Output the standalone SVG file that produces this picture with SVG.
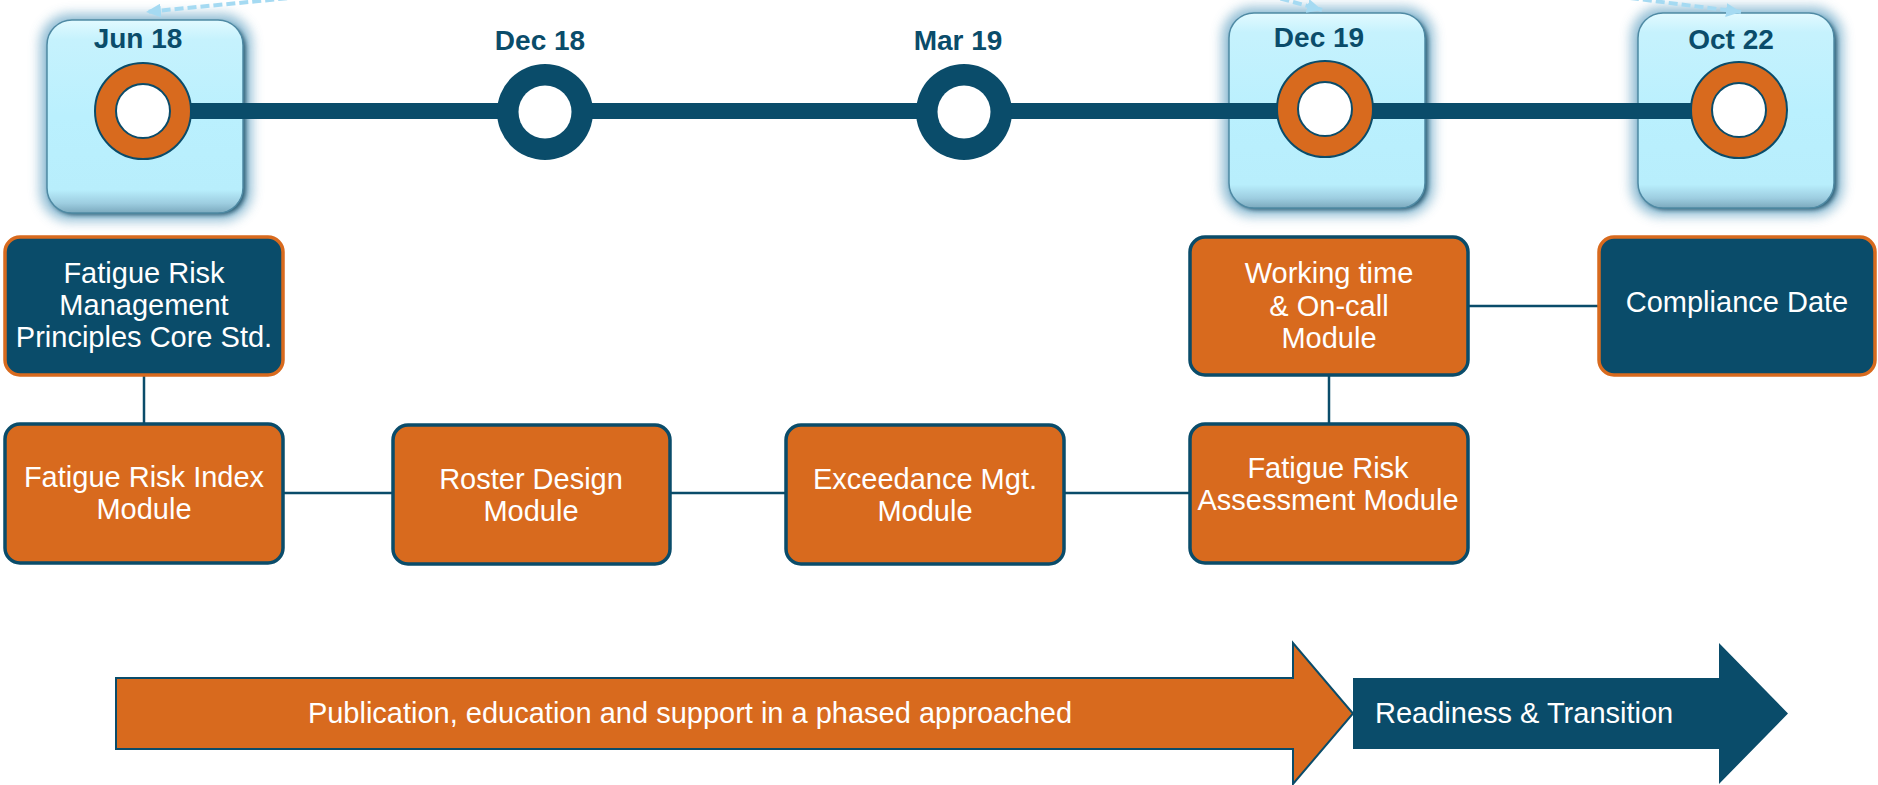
<svg xmlns="http://www.w3.org/2000/svg" width="1878" height="785" viewBox="0 0 1878 785">
<defs>
<style>
.hl{fill:url(#cyan);stroke:#4F8AA4;stroke-width:1.5}
.glow{fill:#7EB2CE;opacity:0.85;filter:url(#blur)}
.shade{fill:#1F4F66;opacity:0.85;filter:url(#blur2)}
.date{font-family:"Liberation Sans",Arial,sans-serif;font-weight:bold;font-size:28px;fill:#0A4C6A;text-anchor:middle}
.ringO{fill:#D86A1E;stroke:#0A4C6A;stroke-width:2}
.ringD{fill:#0A4C6A}
.hole{fill:#FFFFFF;stroke:#0A4C6A;stroke-width:2}
.boxO{fill:#D86A1E;stroke:#0A4C6A;stroke-width:3.5}
.boxB{fill:#0A4C6A;stroke:#D86A1E;stroke-width:3.5}
.txt{font-family:"Liberation Sans",Arial,sans-serif;font-size:29px;fill:#FFFFFF;text-anchor:middle}
.conn{stroke:#0A4C6A;stroke-width:2.5;fill:none}
.dash{stroke:#A5DAF2;stroke-width:4;stroke-dasharray:9 4;fill:none}
</style>
<linearGradient id="cyan" x1="0" y1="0" x2="0" y2="1">
<stop offset="0" stop-color="#E2FAFF"/>
<stop offset="0.1" stop-color="#C6F2FD"/>
<stop offset="0.5" stop-color="#BAF0FE"/>
<stop offset="0.88" stop-color="#B8EEFC"/>
<stop offset="0.95" stop-color="#9DCDE0"/>
<stop offset="1" stop-color="#7BA9BD"/>
</linearGradient>
<filter id="blur" x="-20%" y="-20%" width="140%" height="140%"><feGaussianBlur stdDeviation="6"/></filter>
<filter id="blur2" x="-10%" y="-10%" width="120%" height="120%"><feGaussianBlur stdDeviation="2"/></filter>
<marker id="ah" markerUnits="userSpaceOnUse" markerWidth="16" markerHeight="14" refX="15" refY="7" orient="auto">
<path d="M0,0 L15,7 L0,14 Z" fill="#A5DAF2"/>
</marker>
</defs>

<g id="highlight-jun18">
<rect class="glow" x="40" y="14" width="212" height="207" rx="30"/>
<rect class="shade" x="49" y="23" width="197" height="192" rx="25"/>
<rect class="hl" x="47" y="20" width="196" height="193" rx="25"/>
</g>
<g id="highlight-dec19">
<rect class="glow" x="1222" y="7" width="212" height="209" rx="30"/>
<rect class="shade" x="1231" y="16" width="197" height="194" rx="25"/>
<rect class="hl" x="1229" y="13" width="196" height="195" rx="25"/>
</g>
<g id="highlight-oct22">
<rect class="glow" x="1631" y="7" width="212" height="209" rx="30"/>
<rect class="shade" x="1640" y="16" width="197" height="194" rx="25"/>
<rect class="hl" x="1638" y="13" width="196" height="195" rx="25"/>
</g>

<g id="connectors">
<path class="dash" d="M300,-3 L146,12" marker-end="url(#ah)"/>
<path class="dash" d="M1268,-5 L1322,10" marker-end="url(#ah)"/>
<path class="dash" d="M1630,-2 L1741,12" marker-end="url(#ah)"/>
<line x1="143" y1="111" x2="1739" y2="111" stroke="#0A4C6A" stroke-width="16"/>
<line class="conn" x1="144" y1="375" x2="144" y2="424"/>
<line class="conn" x1="283" y1="493" x2="393" y2="493"/>
<line class="conn" x1="670" y1="493" x2="786" y2="493"/>
<line class="conn" x1="1064" y1="493" x2="1190" y2="493"/>
<line class="conn" x1="1329" y1="375" x2="1329" y2="425"/>
<line class="conn" x1="1468" y1="306" x2="1599" y2="306"/>
</g>

<g id="m-jun18">
<text class="date" x="138" y="48">Jun 18</text>
<circle class="ringO" cx="143" cy="111" r="48"/>
<circle class="hole" cx="143" cy="111" r="27"/>
</g>
<g id="m-dec18">
<text class="date" x="540" y="50">Dec 18</text>
<circle class="ringD" cx="545" cy="112" r="48"/>
<circle cx="545" cy="112" r="26.5" fill="#FFFFFF"/>
</g>
<g id="m-mar19">
<text class="date" x="958" y="50">Mar 19</text>
<circle class="ringD" cx="964" cy="112" r="48"/>
<circle cx="964" cy="112" r="26.5" fill="#FFFFFF"/>
</g>
<g id="m-dec19">
<text class="date" x="1319" y="47">Dec 19</text>
<circle class="ringO" cx="1325" cy="109" r="48"/>
<circle class="hole" cx="1325" cy="109" r="27"/>
</g>
<g id="m-oct22">
<text class="date" x="1731" y="49">Oct 22</text>
<circle class="ringO" cx="1739" cy="110" r="48"/>
<circle class="hole" cx="1739" cy="110" r="27"/>
</g>

<g id="n-core">
<rect class="boxB" x="5" y="237" width="278" height="138" rx="15"/>
<text class="txt" x="144" y="283">Fatigue Risk</text>
<text class="txt" x="144" y="315">Management</text>
<text class="txt" x="144" y="347">Principles Core Std.</text>
</g>
<g id="n-index">
<rect class="boxO" x="5" y="424" width="278" height="139" rx="15"/>
<text class="txt" x="144" y="487">Fatigue Risk Index</text>
<text class="txt" x="144" y="519">Module</text>
</g>
<g id="n-roster">
<rect class="boxO" x="393" y="425" width="277" height="139" rx="15"/>
<text class="txt" x="531" y="489">Roster Design</text>
<text class="txt" x="531" y="521">Module</text>
</g>
<g id="n-exceed">
<rect class="boxO" x="786" y="425" width="278" height="139" rx="15"/>
<text class="txt" x="925" y="489">Exceedance Mgt.</text>
<text class="txt" x="925" y="521">Module</text>
</g>
<g id="n-fra">
<rect class="boxO" x="1190" y="424" width="278" height="139" rx="15"/>
<text class="txt" x="1328" y="478">Fatigue Risk</text>
<text class="txt" x="1328" y="510">Assessment Module</text>
</g>
<g id="n-working">
<rect class="boxO" x="1190" y="237" width="278" height="138" rx="15"/>
<text class="txt" x="1329" y="283">Working time</text>
<text class="txt" x="1329" y="316">&amp; On-call</text>
<text class="txt" x="1329" y="348">Module</text>
</g>
<g id="n-compliance">
<rect class="boxB" x="1599" y="237" width="276" height="138" rx="15"/>
<text class="txt" x="1737" y="312">Compliance Date</text>
</g>

<g id="arrow-publication">
<path d="M116,678 L1293,678 L1293,643 L1353,713.5 L1293,784 L1293,749 L116,749 Z" fill="#D86A1E" stroke="#0A4C6A" stroke-width="2"/>
<text class="txt" x="690" y="723">Publication, education and support in a phased approached</text>
</g>
<g id="arrow-readiness">
<path d="M1353,678 L1719,678 L1719,643 L1788,713.5 L1719,784 L1719,749 L1353,749 Z" fill="#0A4C6A"/>
<text class="txt" x="1375" y="723" style="text-anchor:start">Readiness &amp; Transition</text>
</g>
</svg>
